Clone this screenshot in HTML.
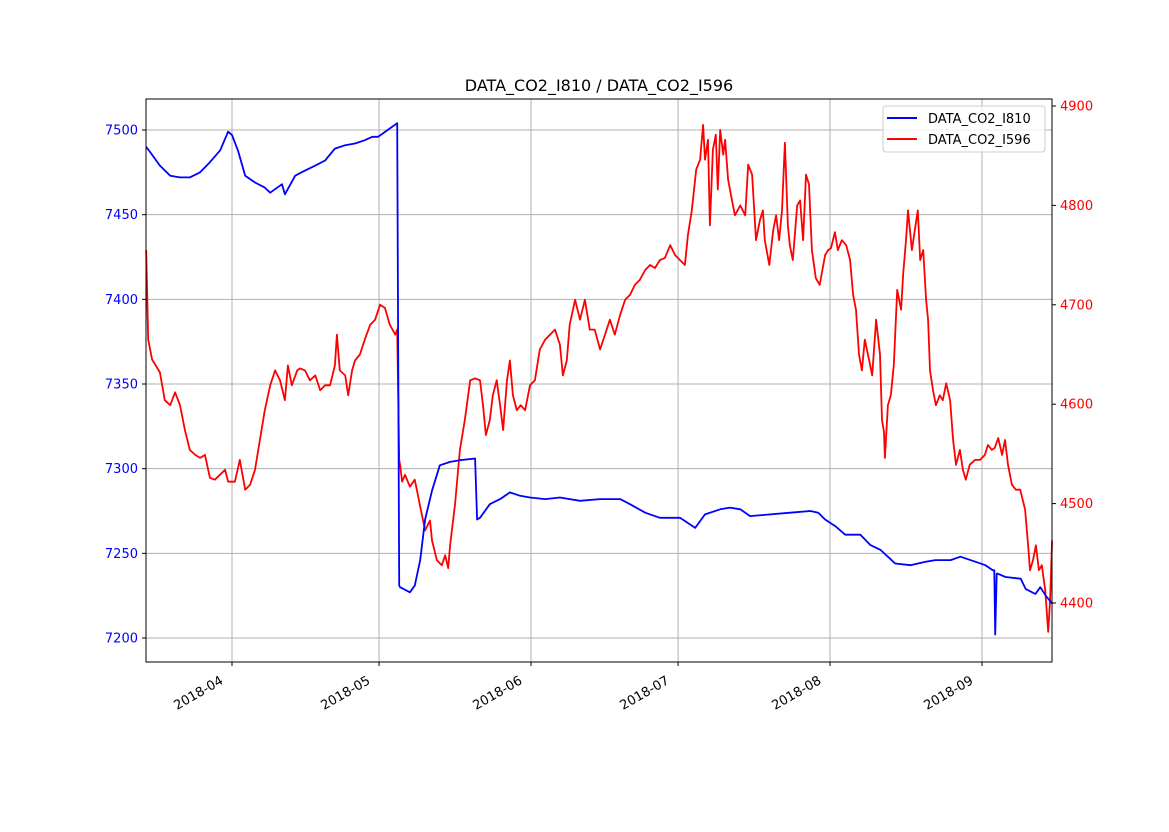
<!DOCTYPE html>
<html><head><meta charset="utf-8"><style>
body{margin:0;background:#fff}
svg text{font-family:"DejaVu Sans","Liberation Sans",sans-serif}
</style></head><body>
<svg id="chart" width="1169" height="827" xmlns="http://www.w3.org/2000/svg">
<rect width="1169" height="827" fill="#fff"/>
<g id="grid"></g><g id="series"></g><g id="axes"></g>
</svg>
<script>
// x values are day-of-year (2018), y in data units
const blueDays=[73.5,74.3,76.3,78.4,80.4,82.4,84.5,86.5,88.6,90.2,91,92.2,93.7,95.7,97.7,98.8,101.2,101.8,103.9,105.9,108,110,112,114.1,116.1,118.1,119.6,120.8,124.7,125.1,125.3,127.3,128.3,129.4,130.4,131.8,133.4,135.5,137.5,140.6,141,141.6,143.6,145.7,147.7,149.8,151.8,154.9,157.9,162,166.1,170.2,172.2,175.3,178.3,182.4,185.5,187.5,190.6,192.6,194.7,196.7,200.8,204.9,209,210.6,212,214.1,216.1,219.2,221.2,223.3,226.3,229.4,232.5,234.5,237.6,239.6,242.7,244.7,246.2,246.5,246.7,247.0,247.2,248.8,251.9,252.9,254.9,255.9,257,258.4];
const blueVals=[7490,7487,7479,7473,7472,7472,7475,7481,7488,7499,7497,7488,7473,7469,7466,7463,7468,7462,7473,7476,7479,7482,7489,7491,7492,7494,7496,7496,7504,7231,7230,7227,7231,7246,7270,7287,7302,7304,7305,7306,7270,7271,7279,7282,7286,7284,7283,7282,7283,7281,7282,7282,7279,7274,7271,7271,7265,7273,7276,7277,7276,7272,7273,7274,7275,7274,7270,7266,7261,7261,7255,7252,7244,7243,7245,7246,7246,7248,7245,7243,7240,7240,7202,7238,7238,7236,7235,7229,7226,7230,7225,7220];
const redDays=[73.5,73.9,74.7,76.3,77.3,78.4,79.4,80.4,81.4,82.4,83.5,84.5,85.5,86.5,87.5,89.6,90.2,91.6,92.6,93.7,94.7,95.7,96.7,97.7,98.8,99.8,100.8,101.8,102.4,103.2,104.3,104.9,105.9,106.9,108,109,110,111,112,112.4,113,114.1,114.7,115.5,116.1,117.1,118.1,119.2,120.2,121.2,122.2,123.2,124.3,124.7,125.1,125.3,125.7,126.3,127.3,128.3,129.4,130.4,131.4,131.8,132.8,133.8,134.5,135.1,135.5,136.5,137.5,138.5,139.6,140.6,141.6,142.2,142.8,143.6,144.2,145,145.7,146.3,147.1,147.7,148.3,149.1,149.9,150.8,151.8,152.8,153.8,154.9,155.9,156.9,157.9,158.5,159.3,159.9,161,162,163,164,165,166.1,167.1,168.1,169.1,170.2,171.2,172.2,173.2,174.2,175.3,176.3,177.3,178.3,179.3,180.4,181.4,182.4,183.4,184,184.8,185.7,186.5,187.1,187.5,188.1,188.5,189.1,189.7,190.1,190.6,191.2,191.6,192.2,193,193.6,194.7,195.7,196.3,197.1,197.9,198.7,199.3,199.7,200.6,201.4,202,202.6,203.2,203.8,204.4,204.8,205.4,206.3,206.9,207.5,208.1,208.7,209.3,210.1,210.9,212,212.6,213.2,214,214.6,215.4,216.3,217.1,217.7,218.3,218.9,219.5,220.1,221.2,221.6,222.4,223.2,223.6,224,224.2,224.8,225.4,226,226.7,227.5,227.9,228.5,228.9,229.7,230.3,230.9,231.4,232,232.6,233,233.4,234,234.6,235.4,236,236.7,237.5,238.1,238.7,239.5,240.1,240.7,241.5,242.6,243.6,244.6,245.2,246,246.6,247.3,248.1,248.7,249.3,250.1,250.9,251.8,252.8,253.4,253.8,254.4,255,255.6,256.2,256.9,257.5,257.9,258.3];
const redVals=[4755,4665,4645,4632,4604,4599,4612,4599,4574,4554,4549,4546,4549,4526,4524,4534,4522,4522,4544,4514,4519,4534,4564,4594,4619,4634,4624,4604,4639,4619,4634,4636,4634,4624,4629,4614,4619,4619,4639,4670,4634,4629,4609,4634,4644,4650,4665,4680,4685,4700,4697,4680,4670,4675,4544,4539,4522,4529,4517,4524,4497,4473,4483,4463,4443,4438,4448,4435,4458,4499,4554,4584,4624,4626,4624,4599,4569,4584,4609,4624,4599,4574,4624,4644,4609,4594,4599,4594,4619,4624,4655,4665,4670,4675,4660,4629,4644,4680,4705,4685,4705,4675,4675,4655,4670,4685,4670,4690,4705,4710,4720,4725,4735,4740,4737,4745,4747,4760,4750,4745,4740,4770,4795,4836,4846,4881,4846,4866,4780,4856,4871,4816,4876,4851,4866,4826,4805,4790,4800,4790,4841,4831,4765,4785,4795,4765,4740,4775,4790,4765,4795,4863,4780,4760,4745,4800,4805,4765,4831,4821,4755,4727,4720,4750,4755,4757,4773,4755,4765,4760,4745,4710,4695,4650,4634,4665,4639,4629,4685,4650,4584,4572,4546,4599,4609,4639,4715,4695,4730,4765,4795,4755,4775,4795,4745,4755,4705,4685,4634,4614,4599,4609,4604,4621,4604,4564,4539,4554,4534,4524,4539,4544,4544,4549,4559,4554,4556,4566,4549,4564,4539,4519,4514,4514,4494,4458,4433,4443,4458,4433,4438,4413,4371,4403,4463];
const leftTicks=[7200,7250,7300,7350,7400,7450,7500];
const rightTicks=[4400,4500,4600,4700,4800,4900];
const xTickDays=[91,121,152,182,213,244];
const xTickLabels=["2018-04","2018-05","2018-06","2018-07","2018-08","2018-09"];

const L=146,R=1052,T=99,B=662;
const xs=d=>232+(d-91)*(750/153);
const yl=v=>638-(v-7200)*(508/300);
const yr=v=>603-(v-4400)*(497/500);
const NS="http://www.w3.org/2000/svg";
function mk(tag,attrs,parent){const e=document.createElementNS(NS,tag);for(const k in attrs)e.setAttribute(k,attrs[k]);parent.appendChild(e);return e;}
const grid=document.getElementById('grid'),ser=document.getElementById('series'),ax=document.getElementById('axes');
leftTicks.forEach((t,i)=>{const y=yl(t);
 const g=mk('line',{x1:L,x2:R,y1:y,y2:y,stroke:'#b0b0b0','stroke-width':1},grid);
 
 
 mk('line',{x1:L-4,x2:L,y1:y,y2:y,stroke:'#000'},ax);
 const tx=mk('text',{x:L-8,y:y+4.5,'text-anchor':'end','font-size':13,fill:'#0000ff'},ax);tx.textContent=t;
 
 
});
rightTicks.forEach(t=>{const y=yr(t);
 mk('line',{x1:R,x2:R+4,y1:y,y2:y,stroke:'#000'},ax);
 const tx=mk('text',{x:R+8,y:y+4.5,'font-size':13,fill:'#ff0000'},ax);tx.textContent=t;
 
 
});
xTickDays.forEach((d,i)=>{const x=xs(d);
 const g=mk('line',{x1:x,x2:x,y1:T,y2:B,stroke:'#b0b0b0','stroke-width':1},grid);
 
 
 mk('line',{x1:x,x2:x,y1:B,y2:B+4,stroke:'#000'},ax);
 const lx=x-8,ly=B+21;
 const tx=mk('text',{x:lx,y:ly,'text-anchor':'end','font-size':13,fill:'#000',transform:`rotate(-30 ${lx} ${ly})`},ax);tx.textContent=xTickLabels[i];
 
 
});
function line(days,vals,yf,color,name){
 const p=mk('polyline',{points:days.map((d,i)=>xs(d).toFixed(1)+','+yf(vals[i]).toFixed(1)).join(' '),fill:'none',stroke:color,'stroke-width':1.8,'stroke-linejoin':'round'},ser);
 
 
}
line(redDays,redVals,yr,'#ff0000','series-i596');
line(blueDays,blueVals,yl,'#0000ff','series-i810');
const fr=mk('rect',{x:L,y:T,width:R-L,height:B-T,fill:'none',stroke:'#000','stroke-width':1},ax);


const ti=mk('text',{x:599,y:91,'text-anchor':'middle','font-size':16,fill:'#000'},ax);ti.textContent='DATA_CO2_I810 / DATA_CO2_I596';


const lg=mk('g',{},ax);


mk('rect',{x:883,y:106,width:162,height:46,rx:3,fill:'#fff','fill-opacity':0.8,stroke:'#ccc'},lg);
[['DATA_CO2_I810','#0000ff',118],['DATA_CO2_I596','#ff0000',139]].forEach(([n,c,y])=>{
 mk('line',{x1:887,x2:917,y1:y,y2:y,stroke:c,'stroke-width':2},lg);
 const t=mk('text',{x:928,y:y+5,'font-size':13,fill:'#000'},lg);t.textContent=n;
 
 
});
</script>
</body></html>
